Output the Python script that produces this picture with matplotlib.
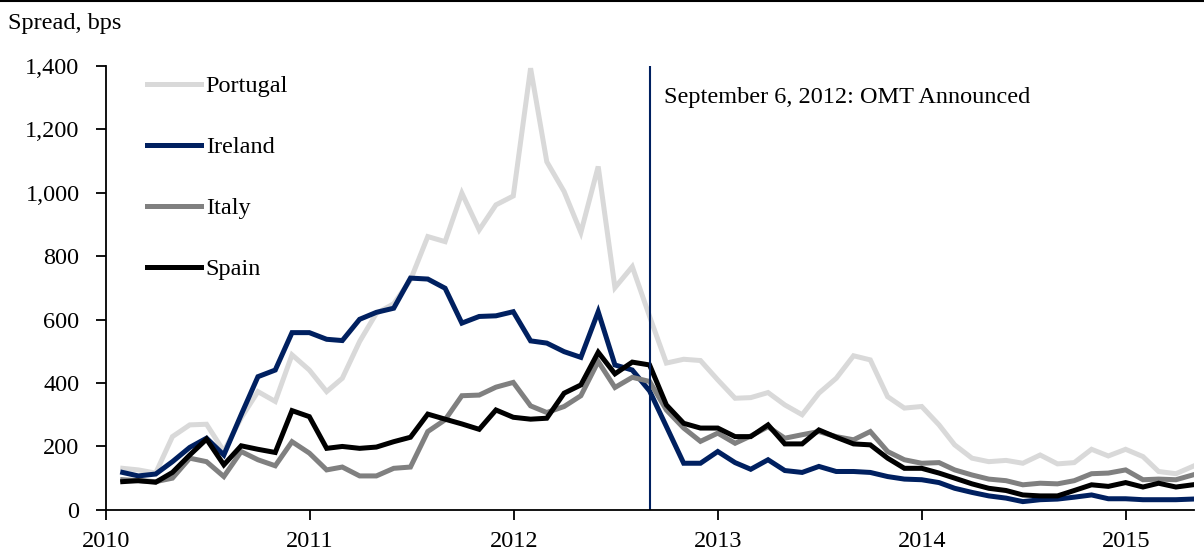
import pandas as pd
import matplotlib
matplotlib.use("Agg")
import matplotlib.pyplot as plt
import matplotlib.dates as mdates
from matplotlib.lines import Line2D
from matplotlib.ticker import FuncFormatter

# Monthly 10y spreads vs Bunds, Jan 2010 - Apr 2015 (month-end)
dates = pd.date_range("2010-01-31", periods=64, freq="ME")

portugal = [131, 126, 116, 231, 268, 270, 185, 290, 373, 342, 489, 441, 373, 415, 531, 620,
            650, 725, 862, 846, 999, 883, 962, 990, 1393, 1098, 1004, 875, 1083, 701, 767, 610,
            463, 475, 471, 410, 352, 354, 370, 331, 300, 368, 415, 486, 473, 357, 321, 326,
            268, 205, 163, 152, 156, 147, 173, 145, 149, 191, 170, 191, 168, 121, 114, 137]
ireland = [118, 107, 113, 152, 197, 226, 173, 300, 420, 441, 559, 559, 538, 534, 601, 623,
           636, 731, 728, 699, 589, 610, 612, 625, 533, 526, 499, 481, 625, 457, 441, 375,
           263, 147, 147, 184, 149, 128, 158, 124, 118, 137, 121, 121, 118, 105, 97, 95,
           86, 68, 55, 44, 37, 26, 32, 34, 40, 47, 35, 35, 32, 32, 32, 34]
italy = [95, 92, 89, 100, 163, 152, 105, 184, 158, 139, 215, 179, 126, 135, 107, 107,
         131, 135, 247, 284, 360, 362, 387, 402, 328, 307, 326, 360, 468, 386, 418, 405,
         315, 258, 216, 242, 210, 233, 262, 226, 237, 247, 231, 221, 247, 184, 158, 147,
         149, 126, 110, 97, 92, 79, 84, 82, 92, 114, 116, 126, 95, 97, 95, 110]
spain = [89, 92, 87, 118, 173, 223, 142, 202, 191, 181, 313, 294, 194, 200, 194, 198,
         215, 229, 302, 286, 271, 254, 315, 292, 286, 289, 368, 394, 497, 429, 466, 457,
         331, 273, 258, 258, 231, 231, 268, 208, 208, 252, 229, 208, 205, 163, 131, 131,
         116, 100, 82, 68, 61, 47, 44, 44, 61, 79, 74, 86, 72, 84, 72, 79]

series = [("Portugal", portugal, "#d9d9d9"),
          ("Ireland", ireland, "#002060"),
          ("Italy", italy, "#808080"),
          ("Spain", spain, "#000000")]

omt_date = pd.Timestamp("2012-09-01")
omt_label = "September 6, 2012: OMT Announced"

plt.rcParams["font.family"] = ["Liberation Serif", "DejaVu Serif"]
plt.rcParams["font.size"] = 17.5

fig = plt.figure(figsize=(12.04, 5.5), dpi=100)
ax = fig.add_axes([0.088, 0.073, 0.904, 0.807])

for name, vals, color in series:
    ax.plot(dates, vals, color=color, lw=3.6, label=name, solid_joinstyle="miter")

ax.axvline(omt_date, color="#002060", lw=1.5)
ax.text(omt_date + pd.Timedelta(days=24), 1300, omt_label, va="center", ha="left")

ax.set_ylim(0, 1400)
ax.set_yticks(range(0, 1401, 200))
ax.yaxis.set_major_formatter(FuncFormatter(lambda v, p: f"{int(v):,}"))
ax.set_xlim(pd.Timestamp("2010-01-01"), pd.Timestamp("2015-05-03"))
ax.xaxis.set_major_locator(mdates.YearLocator())
ax.xaxis.set_major_formatter(mdates.DateFormatter("%Y"))

for s in ["top", "right"]:
    ax.spines[s].set_visible(False)
for s in ["left", "bottom"]:
    ax.spines[s].set_linewidth(1.3)
ax.tick_params(direction="out", length=7, width=1.3)
ax.tick_params(axis="y", pad=12)
ax.tick_params(axis="x", pad=8)

ax.legend(loc="upper left", bbox_to_anchor=(0.018, 1.028), frameon=False,
          handlelength=2.2, handletextpad=0.2, labelspacing=1.6)

fig.text(0.007, 0.958, "Spread, bps", ha="left", va="center")
fig.add_artist(Line2D([0, 1], [0.999, 0.999], color="black", lw=1.5))

fig.savefig("out.png", dpi=100)
